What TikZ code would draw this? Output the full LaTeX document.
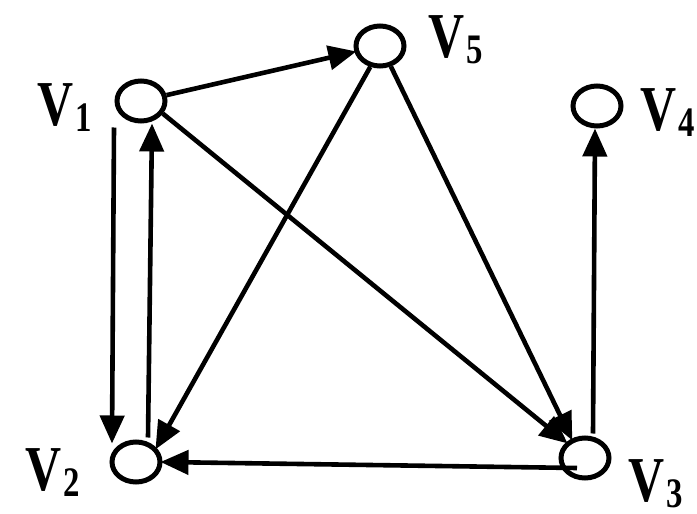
\documentclass[tikz,border=0pt]{standalone}
\usepackage{fontspec}
\setmainfont{Liberation Serif}
\usetikzlibrary{arrows.meta,shapes.geometric}
\tikzset{
  vert/.style={draw, ellipse, line width=5pt, minimum width=48pt, minimum height=40pt, inner sep=0pt},
  arr/.style={line width=4.6pt, -{Triangle[length=28pt,width=24pt]}, shorten >=-2pt},
  lab/.style={anchor=base west, inner sep=0pt, font=\fontsize{64}{64}\selectfont\bfseries}
}
\newcommand{\vsub}[1]{\scalebox{0.78}[1]{V\kern3pt\raisebox{-6pt}{\fontsize{42}{42}\selectfont #1}}}
\begin{document}
\begin{tikzpicture}[x=1pt,y=-1pt]
\useasboundingbox (0,0) rectangle (697,514);
\node[vert] (v1) at (141,101) {};
\node[vert] (v5) at (380,46) {};
\node[vert] (v4) at (597,106) {};
\node[vert] (v2) at (136,462) {};
\node[vert] (v3) at (585,458) {};
\node[lab] (l1) at (37,125) {\vsub{1}};
\node[lab] (l5) at (428,57) {\vsub{5}};
\node[lab] (l4) at (640,130) {\vsub{4}};
\node[lab] (l2) at (25,490) {\vsub{2}};
\node[lab] (l3) at (628,501) {\vsub{3}};
% edges
\draw[arr] (v1) -- (v5);
\draw[arr] (v1.-30) -- (v3.140);
\draw[arr] (v5.-115) -- (v2.35);
\draw[arr] (v5.-62) -- (v3.125);
\draw[arr] ([xshift=-27pt,yshift=-4pt]v1.south) -- ([xshift=-24pt,yshift=-2pt]v2.north);
\draw[arr] ([xshift=12pt,yshift=2pt]v2.north) -- ([xshift=11pt,yshift=-2pt]v1.south);
\draw[arr] ([xshift=8pt,yshift=2pt]v3.north) -- ([xshift=-2pt,yshift=-2pt]v4.south);
\draw[arr] ([xshift=-8pt,yshift=-10pt]v3.center) -- (v2.east);
\end{tikzpicture}
\end{document}
